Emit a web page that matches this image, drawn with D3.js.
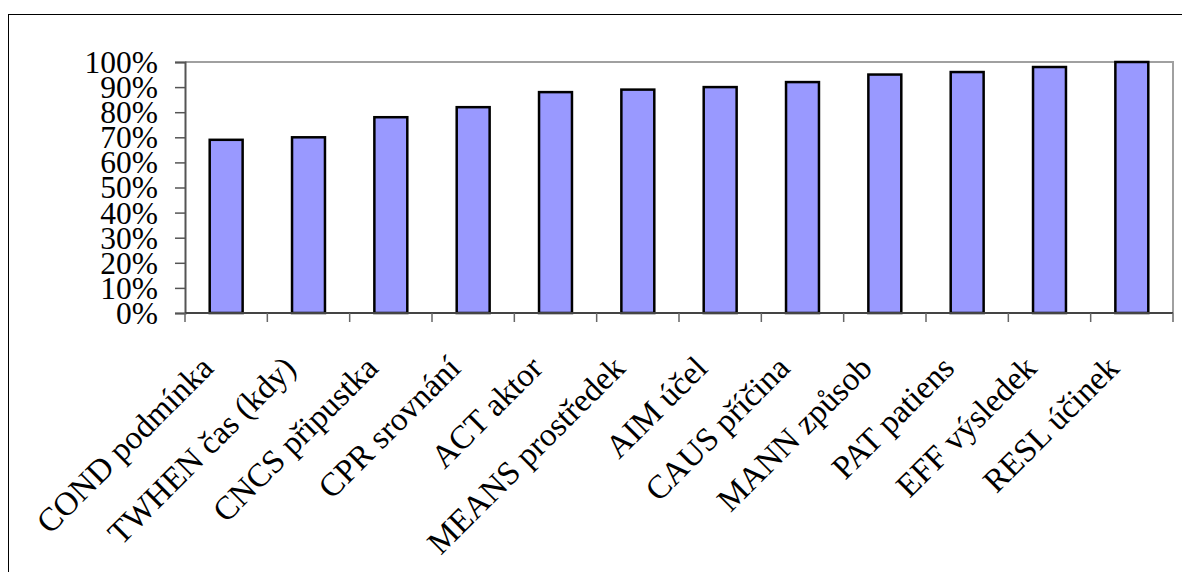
<!DOCTYPE html>
<html>
<head>
<meta charset="utf-8">
<script src="https://cdn.jsdelivr.net/npm/d3@7"></script>
<style>
  html, body { margin: 0; padding: 0; background: #fff; }
  svg { display: block; }
  text { font-family: "Liberation Serif", "Times New Roman", serif; fill: #000; }
</style>
</head>
<body>
<svg id="chart" width="1182" height="572"></svg>
<script>
// Share of each role (functor), in percent
const categories = [
  "COND podmínka", "TWHEN čas (kdy)", "CNCS připustka", "CPR srovnání",
  "ACT aktor", "MEANS prostředek", "AIM účel", "CAUS příčina",
  "MANN způsob", "PAT patiens", "EFF výsledek", "RESL účinek"
];
const values = [69, 70, 78, 82, 88, 89, 90, 92, 95, 96, 98, 100];
const yTicks = [0, 10, 20, 30, 40, 50, 60, 70, 80, 90, 100];

const svg = d3.select("#chart");
const W = 1182, H = 572;
const plot = { left: 185, right: 1173, top: 62, bottom: 313 };
const fontSize = 33;

// outer chart frame (runs off the right and bottom edges)
svg.append("rect")
  .attr("x", 8.5).attr("y", 14.5)
  .attr("width", W + 20).attr("height", H + 20)
  .attr("fill", "none").attr("stroke", "#000").attr("stroke-width", 1);

const x = d3.scaleBand()
  .domain(categories)
  .range([plot.left, plot.right])
  .paddingInner(0.6)
  .paddingOuter(0.3);

const y = d3.scaleLinear().domain([0, 100]).range([plot.bottom, plot.top]);

// plot-area border (top and right)
svg.append("path")
  .attr("d", `M${plot.left},${plot.top}H${plot.right}V${plot.bottom}`)
  .attr("fill", "none").attr("stroke", "#a0a0a0").attr("stroke-width", 2);

// bars
svg.append("g").selectAll("rect")
  .data(values)
  .join("rect")
  .attr("x", (d, i) => x(categories[i]))
  .attr("y", d => y(d))
  .attr("width", x.bandwidth())
  .attr("height", d => y(0) - y(d))
  .attr("fill", "#9999ff")
  .attr("stroke", "#000")
  .attr("stroke-width", 2.5);

// y axis
const yAxis = d3.axisLeft(y)
  .tickValues(yTicks)
  .tickSize(10)
  .tickPadding(17)
  .tickFormat(d => d + "%");
const gy = svg.append("g")
  .attr("transform", `translate(${plot.left},0)`)
  .call(yAxis);
gy.select(".domain").attr("stroke", "#555").attr("stroke-width", 2);
gy.selectAll(".tick line").attr("stroke", "#555").attr("stroke-width", 1.5);
gy.selectAll(".tick text")
  .attr("font-size", 31.5)
  .attr("dy", "0.33em");

// x axis: ticks at category boundaries
const step = x.step();
const boundaries = d3.range(categories.length + 1).map(i => plot.left + i * step);
const gx = svg.append("g");
gx.append("line")
  .attr("x1", plot.left).attr("x2", plot.right)
  .attr("y1", plot.bottom).attr("y2", plot.bottom)
  .attr("stroke", "#444").attr("stroke-width", 2);
gx.selectAll("line.tk")
  .data(boundaries)
  .join("line")
  .attr("class", "tk")
  .attr("x1", d => d).attr("x2", d => d)
  .attr("y1", plot.bottom).attr("y2", plot.bottom + 9)
  .attr("stroke", "#666").attr("stroke-width", 1.5);

// rotated category labels, ending just left of each category centre
gx.selectAll("text")
  .data(categories)
  .join("text")
  .attr("text-anchor", "end")
  .attr("font-size", fontSize)
  .attr("transform", d => {
    const cx = x(d) + x.bandwidth() / 2 - 11;
    return `translate(${cx},${plot.bottom + 57}) rotate(-45)`;
  })
  .text(d => d);
</script>
</body>
</html>
